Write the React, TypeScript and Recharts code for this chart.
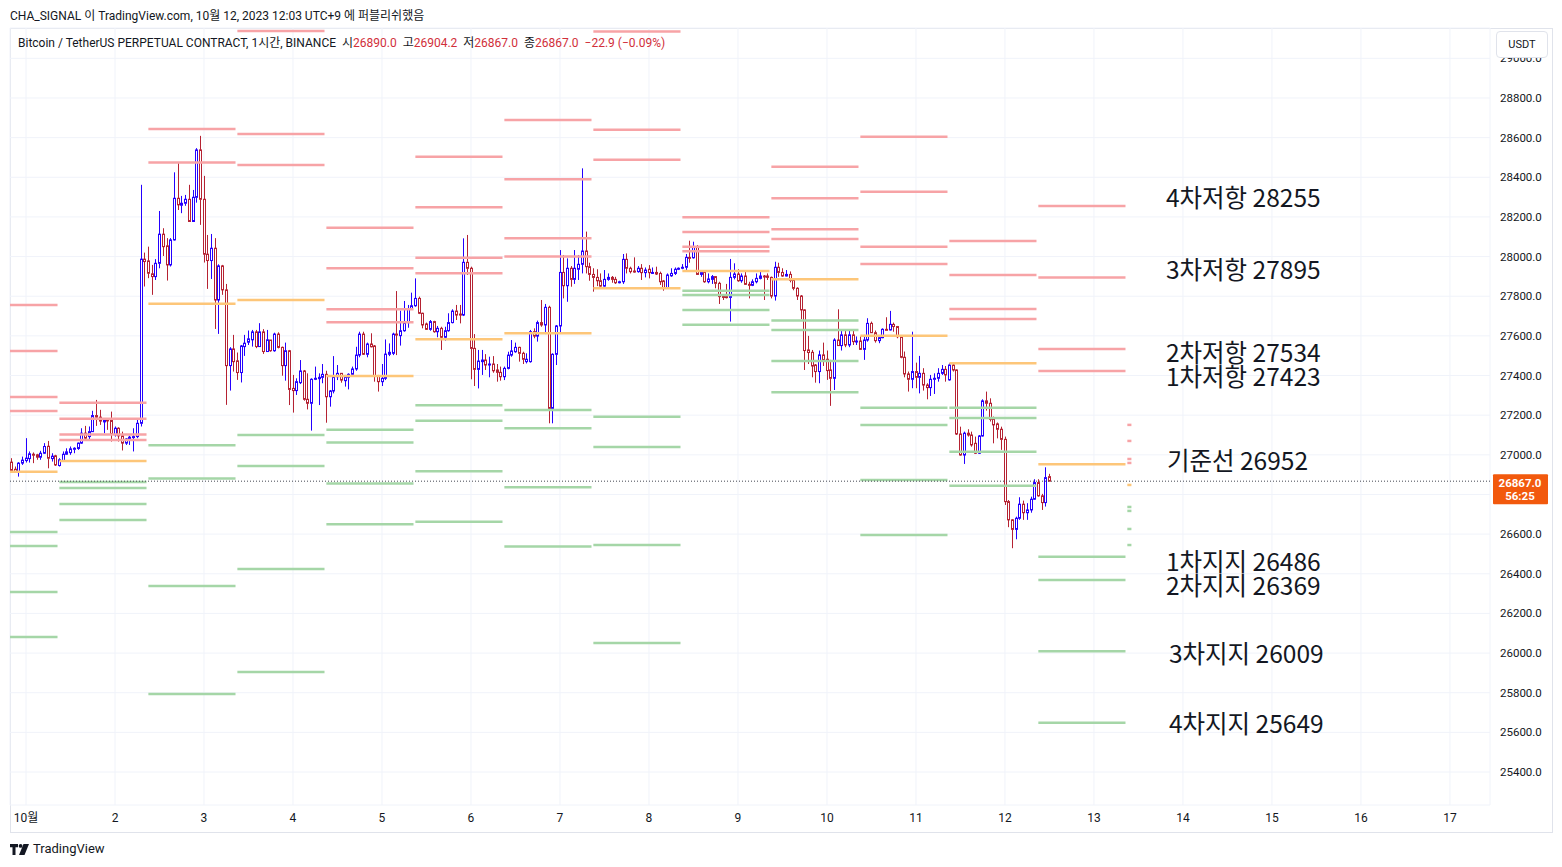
import React from 'react';
import { ComposedChart, Bar, XAxis, YAxis, CartesianGrid, ReferenceLine, ReferenceDot } from 'recharts';

// Hourly candles [open, high, low, close], first bar = 2023-09-30 20:00 (UTC+9)
const candles: number[][] = [
  [26963, 26983, 26916, 26921], [26927, 26941, 26912, 26914], [26912, 26963, 26890, 26958], [26958, 26991, 26949, 26973],
  [26971, 27084, 26961, 26983], [26981, 27017, 26961, 27005], [27003, 27012, 26958, 27000], [27000, 27005, 26975, 26988],
  [26988, 27020, 26975, 27008], [27008, 27059, 27005, 27042], [27043, 27070, 26932, 26983], [26981, 27008, 26966, 26993],
  [26995, 27000, 26944, 26949], [26946, 26983, 26941, 26975], [26971, 27017, 26966, 27003], [27003, 27033, 27000, 27015],
  [27011, 27042, 27000, 27030], [27028, 27038, 27008, 27033], [27032, 27062, 27025, 27059], [27059, 27134, 27055, 27109],
  [27109, 27146, 27075, 27084], [27092, 27143, 27072, 27117], [27117, 27222, 27116, 27198], [27198, 27277, 27146, 27190],
  [27190, 27227, 27151, 27170], [27166, 27185, 27109, 27173], [27176, 27185, 27126, 27173], [27173, 27218, 27067, 27106],
  [27101, 27143, 27092, 27134], [27134, 27139, 27067, 27096], [27096, 27117, 27022, 27059], [27059, 27084, 27050, 27080],
  [27079, 27096, 27050, 27089], [27089, 27134, 27017, 27092], [27092, 27176, 27084, 27159], [27159, 28362, 27143, 27987],
  [27987, 28020, 27849, 27975], [27978, 28050, 27891, 27916], [27913, 27958, 27807, 27899], [27899, 27987, 27882, 27966],
  [27966, 28230, 27941, 28113], [28113, 28143, 28003, 28050], [28054, 28093, 27879, 27958], [27958, 28093, 27950, 28084],
  [28084, 28425, 28081, 28294], [28294, 28471, 28235, 28261], [28259, 28306, 28219, 28269], [28269, 28311, 28256, 28289],
  [28289, 28362, 28177, 28177], [28177, 28336, 28175, 28299], [28299, 28547, 28272, 28538], [28538, 28609, 28160, 28289],
  [28289, 28407, 27970, 28012], [28012, 28109, 27837, 27980], [27980, 28114, 27887, 28042], [28042, 28093, 27635, 27781],
  [27781, 27961, 27610, 27953], [27953, 27958, 27807, 27832], [27832, 27862, 27252, 27450], [27450, 27543, 27324, 27534],
  [27534, 27605, 27420, 27470], [27474, 27516, 27378, 27415], [27415, 27554, 27365, 27549], [27546, 27605, 27499, 27563],
  [27568, 27627, 27554, 27585], [27580, 27630, 27546, 27620], [27620, 27630, 27538, 27546], [27546, 27664, 27546, 27620],
  [27620, 27634, 27509, 27521], [27521, 27630, 27521, 27580], [27579, 27579, 27520, 27525], [27525, 27616, 27520, 27609],
  [27609, 27618, 27537, 27542], [27542, 27546, 27399, 27450], [27450, 27566, 27374, 27525], [27525, 27529, 27251, 27330],
  [27335, 27403, 27213, 27324], [27324, 27386, 27302, 27369], [27364, 27478, 27357, 27423], [27423, 27428, 27273, 27280],
  [27280, 27411, 27229, 27260], [27260, 27386, 27122, 27381], [27381, 27445, 27377, 27386], [27384, 27411, 27251, 27391],
  [27391, 27458, 27361, 27406], [27406, 27424, 27162, 27293], [27293, 27327, 27243, 27322], [27322, 27498, 27310, 27394],
  [27394, 27453, 27377, 27411], [27411, 27411, 27364, 27377], [27374, 27403, 27344, 27391], [27391, 27411, 27330, 27406],
  [27406, 27445, 27394, 27433], [27433, 27545, 27424, 27503], [27503, 27621, 27492, 27609], [27609, 27621, 27504, 27507],
  [27507, 27566, 27492, 27559], [27559, 27613, 27542, 27545], [27549, 27554, 27369, 27398], [27398, 27403, 27319, 27369],
  [27369, 27458, 27347, 27386], [27386, 27582, 27377, 27508], [27507, 27562, 27498, 27517], [27512, 27616, 27503, 27609],
  [27609, 27826, 27503, 27604], [27601, 27727, 27551, 27626], [27626, 27776, 27621, 27667], [27667, 27756, 27641, 27734],
  [27734, 27818, 27731, 27752], [27752, 27890, 27747, 27789], [27789, 27798, 27710, 27714], [27714, 27717, 27638, 27655],
  [27660, 27667, 27630, 27633], [27633, 27680, 27626, 27672], [27672, 27676, 27616, 27621], [27621, 27650, 27593, 27638],
  [27638, 27646, 27529, 27593], [27593, 27646, 27576, 27626], [27626, 27714, 27621, 27667], [27667, 27734, 27663, 27725],
  [27725, 27756, 27680, 27705], [27710, 27756, 27663, 27705], [27705, 28092, 27700, 27971], [27971, 28109, 27907, 27941],
  [27941, 27949, 27381, 27537], [27537, 27609, 27347, 27431], [27431, 27529, 27335, 27473], [27470, 27529, 27403, 27478],
  [27478, 27508, 27428, 27453], [27453, 27495, 27391, 27458], [27458, 27498, 27414, 27424], [27428, 27458, 27369, 27416],
  [27416, 27445, 27374, 27394], [27394, 27445, 27377, 27436], [27436, 27520, 27431, 27503], [27503, 27579, 27495, 27524],
  [27520, 27566, 27515, 27542], [27542, 27545, 27470, 27512], [27512, 27520, 27458, 27482], [27470, 27512, 27461, 27482],
  [27470, 27630, 27465, 27621], [27621, 27638, 27588, 27599], [27599, 27677, 27571, 27667], [27667, 27781, 27646, 27655],
  [27655, 27761, 27609, 27744], [27744, 27752, 27159, 27234], [27234, 27512, 27159, 27507], [27507, 27655, 27453, 27650],
  [27650, 28033, 27616, 27920], [27920, 28008, 27789, 27853], [27853, 27991, 27772, 27941], [27941, 27952, 27848, 27885],
  [27885, 28033, 27862, 27941], [27936, 28008, 27882, 27961], [27961, 28445, 27915, 28028], [28028, 28126, 27915, 27949],
  [27949, 27969, 27878, 27910], [27910, 27941, 27823, 27895], [27895, 27936, 27851, 27878], [27878, 27915, 27848, 27851],
  [27851, 27932, 27848, 27885], [27885, 27915, 27878, 27895], [27895, 27902, 27868, 27885], [27885, 27898, 27862, 27868],
  [27868, 27878, 27865, 27873], [27873, 28013, 27862, 27986], [27986, 28016, 27915, 27941], [27941, 27949, 27915, 27924],
  [27927, 27996, 27919, 27922], [27924, 27952, 27919, 27941], [27941, 27962, 27882, 27919], [27919, 27945, 27895, 27932],
  [27936, 27957, 27890, 27919], [27919, 27945, 27912, 27920], [27920, 27949, 27907, 27912], [27915, 27924, 27857, 27873],
  [27877, 27882, 27828, 27843], [27843, 27915, 27840, 27907], [27903, 27941, 27898, 27915], [27915, 27945, 27907, 27936],
  [27936, 27945, 27932, 27941], [27941, 27962, 27936, 27946], [27946, 28013, 27924, 27996], [27996, 28080, 27969, 27994],
  [27994, 28075, 27990, 28046], [28046, 28058, 27907, 27910], [27910, 27932, 27898, 27920], [27920, 27932, 27868, 27873],
  [27873, 27915, 27865, 27887], [27885, 27907, 27862, 27899], [27899, 27902, 27840, 27865], [27865, 27873, 27761, 27798],
  [27801, 27806, 27781, 27794], [27798, 27862, 27789, 27794], [27794, 27988, 27672, 27895], [27895, 27966, 27885, 27912],
  [27912, 27936, 27873, 27878], [27878, 27915, 27868, 27902], [27902, 27924, 27857, 27860], [27860, 27873, 27789, 27855],
  [27855, 27885, 27851, 27873], [27873, 27915, 27865, 27890], [27890, 27932, 27885, 27902], [27902, 27907, 27781, 27899],
  [27902, 27915, 27882, 27895], [27895, 27899, 27789, 27801], [27801, 27974, 27778, 27946], [27946, 27969, 27898, 27920],
  [27920, 27941, 27898, 27902], [27902, 27932, 27900, 27910], [27910, 27925, 27870, 27880], [27880, 27890, 27830, 27840],
  [27840, 27845, 27781, 27801], [27801, 27806, 27684, 27731], [27731, 27734, 27428, 27526], [27529, 27600, 27458, 27516],
  [27517, 27529, 27391, 27448], [27453, 27458, 27364, 27420], [27420, 27526, 27361, 27504], [27504, 27566, 27448, 27479],
  [27482, 27526, 27378, 27425], [27428, 27479, 27247, 27386], [27386, 27588, 27327, 27579], [27579, 27734, 27551, 27551],
  [27551, 27630, 27526, 27605], [27605, 27627, 27543, 27554], [27554, 27627, 27543, 27605], [27605, 27627, 27554, 27571],
  [27571, 27597, 27554, 27574], [27574, 27597, 27529, 27532], [27532, 27605, 27479, 27579], [27579, 27689, 27571, 27663],
  [27663, 27672, 27616, 27616], [27616, 27627, 27566, 27576], [27576, 27600, 27563, 27591], [27591, 27638, 27588, 27633],
  [27633, 27694, 27627, 27630], [27630, 27726, 27627, 27658], [27658, 27667, 27621, 27647], [27647, 27650, 27588, 27596],
  [27596, 27600, 27487, 27492], [27492, 27521, 27391, 27408], [27408, 27420, 27319, 27381], [27381, 27621, 27336, 27420],
  [27420, 27465, 27336, 27391], [27391, 27499, 27310, 27411], [27411, 27437, 27324, 27352], [27352, 27361, 27280, 27339],
  [27339, 27403, 27297, 27381], [27381, 27411, 27307, 27386], [27386, 27437, 27369, 27411], [27411, 27453, 27403, 27431],
  [27431, 27448, 27369, 27403], [27378, 27462, 27374, 27453], [27453, 27465, 27420, 27428], [27428, 27431, 27100, 27105],
  [27105, 27142, 26996, 26999], [26999, 27117, 26954, 27109], [27109, 27129, 27092, 27100], [27100, 27117, 27041, 27050],
  [27058, 27092, 27004, 27008], [27008, 27100, 27004, 27095], [27095, 27280, 27092, 27272], [27272, 27319, 27223, 27260],
  [27260, 27285, 27168, 27179], [27179, 27193, 27058, 27151], [27156, 27163, 27083, 27129], [27129, 27142, 27025, 27078],
  [27078, 27092, 26747, 26764], [26764, 26772, 26635, 26672], [26672, 26675, 26529, 26624], [26624, 26688, 26574, 26680],
  [26680, 26786, 26672, 26751], [26751, 26769, 26672, 26708], [26708, 26756, 26672, 26722], [26722, 26789, 26708, 26776],
  [26776, 26877, 26773, 26860], [26860, 26877, 26789, 26793], [26793, 26803, 26722, 26759], [26759, 26937, 26739, 26885],
  [26890, 26904.2, 26867, 26867],
];

// Day ticks (hour index of local midnight) and labels
const dayTicks = [4, 28, 52, 76, 100, 124, 148, 172, 196, 220, 244, 268, 292, 316, 340, 364, 388];
const dayLabels = ['10월', '2', '3', '4', '5', '6', '7', '8', '9', '10', '11', '12', '13', '14', '15', '16', '17'];
const priceTicks = [25400, 25600, 25800, 26000, 26200, 26400, 26600, 26800, 27000, 27200, 27400, 27600, 27800, 28000, 28200, 28400, 28600, 28800, 29000];

// Daily pivot levels (each UTC day starts at 09:00 local); last entry = first hour of 10/13
const levelStarts = [-11, 13, 37, 61, 85, 109, 133, 157, 181, 205, 229, 253, 277, 301];
const levelSpans = [23.5, 23.5, 23.5, 23.5, 23.5, 23.5, 23.5, 23.5, 23.5, 23.5, 23.5, 23.5, 23.5, 1.1];
const resist4 = [27756, 27263, 29730, 29657, 28146, 28504, 28689, 29629, 28198, 28453, 28604, 28079, 28255, 27151];
const resist3 = [27524, 27182, 29186, 29138, 27941, 28249, 28390, 29135, 28124, 28294, 28327, 27907, 27895, 27070];
const resist2 = [27292, 27102, 28644, 28618, 27734, 27994, 28092, 28640, 28050, 28138, 28049, 27736, 27534, 26979];
const resist1 = [27221, 27075, 28474, 28462, 27669, 27916, 28000, 28488, 28027, 28089, 27962, 27685, 27423, 26959];
const pivots = [26915, 26969, 27762, 27781, 27398, 27583, 27613, 27840, 27927, 27885, 27600, 27462, 26952, 26848];
const support1 = [26611, 26863, 27048, 27100, 27127, 27250, 27226, 27192, 27828, 27677, 27238, 27238, 26486, 26737];
const support2 = [26540, 26833, 26880, 26944, 27062, 27172, 27134, 27040, 27806, 27630, 27151, 27186, 26369, 26717];
const support3 = [26308, 26752, 26338, 26424, 26855, 26917, 26836, 26545, 27731, 27473, 26873, 27016, 26009, 26626];
const support4 = [26081, 26671, 25794, 25905, 26650, 26662, 26537, 26051, 27656, 27316, 26596, 26844, 25649, 26545];

const noteNames = ['4차저항', '3차저항', '2차저항', '1차저항', '기준선', '1차지지', '2차지지', '3차지지', '4차지지'];
const noteDay = 12; // levels of 10/12 are annotated

const lastClose = 26867;
const countdown = '56:25';

// ---- presentation ----
const X_MIN = -0.316;
const X_MAX = 398.8;
const Y_MIN = 25233.6;
const Y_MAX = 29153;
const BLUE = '#2400ff';
const RED = '#b52232';
const C_RED = '#f7a3a6';
const C_ORANGE = '#fdc679';
const C_GREEN = '#a5d6a7';
const NOTE_X = 311.4;
const noteNudgeY = [-10, -9, 3, 5, -5, 4, 5, 1, 0];
const noteNudgeX = [0, 0, 0, 0, 1, 0, 0, 3, 3];
const FONT = "Roboto, 'Noto Sans CJK KR', sans-serif";

const rows = candles.map((c, i) => ({ t: i, o: c[0], h: c[1], l: c[2], c: c[3] }));

const levelGroups = [
  { values: resist4, color: C_RED },
  { values: resist3, color: C_RED },
  { values: resist2, color: C_RED },
  { values: resist1, color: C_RED },
  { values: pivots, color: C_ORANGE },
  { values: support1, color: C_GREEN },
  { values: support2, color: C_GREEN },
  { values: support3, color: C_GREEN },
  { values: support4, color: C_GREEN },
];

const notes = levelGroups.map((g, k) => ({ name: noteNames[k], value: g.values[noteDay] }));

function Candle(props: any) {
  const { x, y, width, height, payload } = props;
  if (!payload || x == null || y == null) return null;
  const { o, h, l, c } = payload;
  const cx = Math.round(x + width / 2) + 0.5;
  const range = h - l;
  const k = range > 0 ? height / range : 0;
  const yOf = (v: number) => y + (h - v) * k;
  const up = c >= o;
  const color = up ? BLUE : RED;
  const top = yOf(Math.max(o, c));
  const bot = yOf(Math.min(o, c));
  return (
    <g>
      <line x1={cx} x2={cx} y1={y} y2={y + height} stroke={color} strokeWidth={1} />
      <rect x={cx - 1} y={top} width={2} height={Math.max(bot - top, 1)} fill="#ffffff" stroke={color} strokeWidth={1} />
    </g>
  );
}

function PriceTick(props: any) {
  const { x, y, payload } = props;
  const v = payload?.value;
  if (v == null || Math.abs(v - lastClose) < 80) return null;
  return (
    <text x={x} y={y} dy="0.355em" textAnchor="start" fill="#131722" fontSize={11.5} fontFamily={FONT}>
      {Number(v).toFixed(1)}
    </text>
  );
}

function PriceTag(props: any) {
  const vb = props.viewBox || {};
  const x = (vb.x || 0) + (vb.width || 0) + 3;
  const y = vb.y || 0;
  return (
    <g>
      <rect x={x} y={y - 7} width={55} height={30} fill="#f2590d" rx={1} />
      <text x={x + 27} y={y + 2} textAnchor="middle" dominantBaseline="central" fill="#ffffff" fontSize={11.5} fontWeight={700} fontFamily={FONT}>
        {lastClose.toFixed(1)}
      </text>
      <text x={x + 27} y={y + 15} textAnchor="middle" dominantBaseline="central" fill="#ffffff" fontSize={11.5} fontWeight={700} fontFamily={FONT}>
        {countdown}
      </text>
    </g>
  );
}

function TvLogo() {
  return (
    <svg width={20} height={11} viewBox="0 0 20 11" style={{ position: 'absolute', left: 10, top: 844 }}>
      <path d="M0 0 H8 V3.2 H5.5 V11 H2.5 V3.2 H0 Z" fill="#131722" />
      <circle cx={10.6} cy={1.9} r={1.9} fill="#131722" />
      <path d="M13.5 0 H19 L14.5 11 H9 Z" fill="#131722" />
    </svg>
  );
}

export default function App() {
  return (
    <div style={{ position: 'absolute', left: 0, top: 0, width: 1562, height: 867, background: '#ffffff', fontFamily: FONT, overflow: 'hidden' }}>
      <div style={{ position: 'absolute', left: 10, top: 28, width: 1541, height: 803, border: '1px solid #e0e3eb' }} />
      <ComposedChart width={1562} height={867} data={rows} margin={{ top: 28, right: 10, bottom: 35, left: 10 }}>
        <CartesianGrid stroke="#f0f3fa" strokeWidth={1} />
        <XAxis
          dataKey="t"
          type="number"
          domain={[X_MIN, X_MAX]}
          ticks={dayTicks}
          interval={0}
          allowDataOverflow
          tickFormatter={(v: number) => dayLabels[dayTicks.indexOf(v)] ?? ''}
          height={27}
          axisLine={false}
          tickLine={false}
          tick={{ fill: '#131722', fontSize: 12, fontFamily: FONT }}
        />
        <YAxis
          orientation="right"
          type="number"
          domain={[Y_MIN, Y_MAX]}
          ticks={priceTicks}
          interval={0}
          allowDataOverflow
          width={62}
          axisLine={false}
          tickLine={false}
          tickMargin={4}
          tick={<PriceTick />}
        />
        {levelStarts.map((s, k) =>
          levelGroups.map((g, j) => (
            <ReferenceLine
              key={`lv-${k}-${j}`}
              segment={[{ x: Math.max(s, X_MIN), y: g.values[k] }, { x: s + levelSpans[k], y: g.values[k] }]}
              stroke={g.color}
              strokeWidth={2.5}
              ifOverflow="discard"
            />
          ))
        )}
        <ReferenceLine y={lastClose} stroke="#434651" strokeDasharray="1 2" strokeWidth={1} label={<PriceTag />} />
        <Bar dataKey={(d: any) => [d.l, d.h]} barSize={3} shape={<Candle />} isAnimationActive={false} />
        {notes.map((n, k) => (
          <ReferenceDot
            key={`note-${k}`}
            x={NOTE_X}
            y={n.value}
            r={0}
            shape={(p: any) => (
              <text
                x={p.cx + noteNudgeX[k]}
                y={p.cy + noteNudgeY[k]}
                dominantBaseline="central"
                fill="#131722"
                fontSize={24.5}
                fontFamily="'Noto Sans CJK KR', 'Noto Sans', sans-serif"
              >
                {`${n.name} ${n.value}`}
              </text>
            )}
          />
        ))}
      </ComposedChart>
      <div style={{ position: 'absolute', left: 10, top: 6, fontSize: 12, color: '#131722', whiteSpace: 'nowrap' }}>
        CHA_SIGNAL 이 TradingView.com, 10월 12, 2023 12:03 UTC+9 에 퍼블리쉬했음
      </div>
      <div style={{ position: 'absolute', left: 18, top: 33, fontSize: 12, color: '#131722', whiteSpace: 'nowrap' }}>
        Bitcoin / TetherUS PERPETUAL CONTRACT, 1시간, BINANCE&nbsp;&nbsp;시<span style={{ color: '#d12f3a' }}>26890.0</span>&nbsp;&nbsp;고<span style={{ color: '#d12f3a' }}>26904.2</span>&nbsp;&nbsp;저<span style={{ color: '#d12f3a' }}>26867.0</span>&nbsp;&nbsp;종<span style={{ color: '#d12f3a' }}>26867.0</span>&nbsp;&nbsp;<span style={{ color: '#d12f3a' }}>−22.9 (−0.09%)</span>
      </div>
      <div style={{ position: 'absolute', left: 1496, top: 31, width: 50, height: 25, border: '1px solid #e0e3eb', borderRadius: 4, background: '#ffffff', fontSize: 11, color: '#131722', display: 'flex', alignItems: 'center', justifyContent: 'center' }}>
        USDT
      </div>
      <TvLogo />
      <div style={{ position: 'absolute', left: 33, top: 841, fontSize: 13, color: '#131722', whiteSpace: 'nowrap' }}>TradingView</div>
    </div>
  );
}
